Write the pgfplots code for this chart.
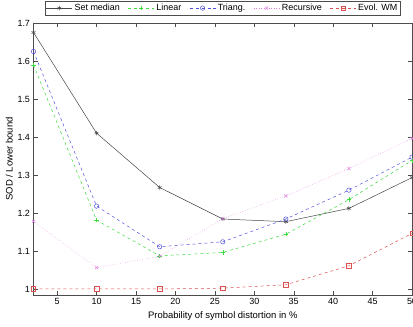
\documentclass[border=0pt]{standalone}
\usepackage{fontspec}
\setmainfont{Liberation Sans}
\usepackage{pgfplots}
\pgfplotsset{compat=1.18}
\definecolor{cmed}{RGB}{70,70,70}
\definecolor{clin}{RGB}{60,220,60}
\definecolor{ctri}{RGB}{80,80,220}
\definecolor{crec}{RGB}{225,130,225}
\definecolor{cevo}{RGB}{220,80,80}
\begin{document}
\begin{tikzpicture}
\begin{axis}[
  scale only axis,
  width=378.5bp, height=272bp,
  xmin=2, xmax=50, ymin=0.984, ymax=1.7,
  xtick={5,10,...,50},
  ytick={1,1.1,1.2,1.3,1.4,1.5,1.6,1.7},
  yticklabels={1,1.1,1.2,1.3,1.4,1.5,1.6,1.7},
  tick align=inside,
  major tick length=4bp,
  tick style={black!70,line width=0.4bp},
  axis line style={black!70,line width=0.5bp},
  every tick label/.append style={font=\fontsize{9}{11}\selectfont},
  /pgf/number format/assume math mode=true,
  xlabel={Probability of symbol distortion in \%},
  ylabel={SOD / Lower bound},
  label style={font=\fontsize{9.5}{11}\selectfont},
  xlabel style={yshift=0bp},
  ylabel style={yshift=-2bp},
  legend columns=-1,
  legend style={at={(0.5,1)}, anchor=south, yshift=7.5bp,
    font=\fontsize{9}{10}\selectfont, inner sep=1.2bp, draw=black!70,
    /tikz/every even column/.append style={column sep=6bp}},
  legend image code/.code={\draw[mark repeat=2,mark phase=2,#1] plot coordinates {(0bp,0bp) (13bp,0bp) (26bp,0bp)};},
  mark size=2.2bp,
  every axis plot/.append style={line width=0.5bp, mark options={solid}},
]
\addplot[color=cmed, mark=asterisk, solid] coordinates {
 (2,1.675) (10,1.41) (18,1.267) (26,1.184) (34,1.177) (42,1.212) (50,1.293)};
\addlegendentry{Set median}
\addplot[color=clin, mark=+, dashed] coordinates {
 (2,1.59) (10,1.181) (18,1.087) (26,1.096) (34,1.144) (42,1.235) (50,1.338)};
\addlegendentry{Linear}
\addplot[color=ctri, mark=o, dashed] coordinates {
 (2,1.625) (10,1.218) (18,1.111) (26,1.124) (34,1.184) (42,1.26) (50,1.347)};
\addlegendentry{Triang.}
\addplot[color=crec, mark=x, dotted] coordinates {
 (2,1.178) (10,1.056) (18,1.086) (26,1.185) (34,1.245) (42,1.317) (50,1.396)};
\addlegendentry{Recursive}
\addplot[color=cevo, mark=square, dashed] coordinates {
 (2,1.0) (10,1.0) (18,1.0) (26,1.002) (34,1.011) (42,1.061) (50,1.146)};
\addlegendentry{Evol. WM}
\end{axis}
\pgfresetboundingbox
\path[use as bounding box] ([shift={(-33.5bp,-32bp)}]current axis.south west) rectangle ([shift={(1bp,23bp)}]current axis.north east);
\end{tikzpicture}
\end{document}
